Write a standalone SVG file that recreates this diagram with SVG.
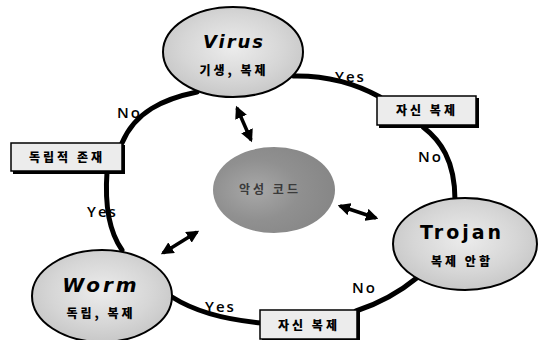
<svg xmlns="http://www.w3.org/2000/svg" width="540" height="340" viewBox="0 0 540 340">
<defs>
<radialGradient id="g" cx="0.5" cy="0.45" r="0.6">
<stop offset="0" stop-color="#ececec"/>
<stop offset="0.6" stop-color="#d6d6d6"/>
<stop offset="1" stop-color="#c4c4c4"/>
</radialGradient>
<radialGradient id="gc" cx="0.35" cy="0.5" r="0.7">
<stop offset="0" stop-color="#a8a8a8"/>
<stop offset="0.5" stop-color="#909090"/>
<stop offset="1" stop-color="#858585"/>
</radialGradient>
<marker id="ah" viewBox="0 0 10 10" refX="8" refY="5" markerWidth="3.6" markerHeight="3.6" orient="auto-start-reverse">
<path d="M0,0 L10,5 L0,10 Z" fill="#000"/>
</marker>
</defs>
<style>
.node{fill:url(#g);stroke:#000;stroke-width:2}
.title{font-family:"DejaVu Sans",sans-serif;font-weight:bold;fill:#000;text-anchor:middle}
.ko{font-family:"Noto Sans CJK KR",sans-serif;font-weight:900;font-size:12px;letter-spacing:3px;fill:#000;text-anchor:middle}
.box{fill:#ececec;stroke:#000;stroke-width:1.5}
.shadow{fill:#000}
.loop{fill:none;stroke:#000;stroke-width:5;stroke-linecap:round}
.lbl{font-family:"Open Sans",sans-serif;font-weight:600;font-size:15px;letter-spacing:2px;fill:#000}
.arr{stroke:#000;stroke-width:3.5;marker-start:url(#ah);marker-end:url(#ah)}
</style>
<g id="connectors">
<path class="loop" d="M197,92 C163,99 135,112 122,143"/>
<path class="loop" d="M107,172 C105,200 108,230 122,250"/>
<path class="loop" d="M172,297 Q205,318 262,323"/>
<path class="loop" d="M356,311 Q390,300 418,277"/>
<path class="loop" d="M423,127 C440,140 455,160 455,200"/>
<path class="loop" d="M380,97 Q340,75 293,76"/>
<line class="arr" x1="237" y1="108" x2="251" y2="140"/>
<line class="arr" x1="340" y1="206" x2="376" y2="218"/>
<line class="arr" x1="163" y1="253" x2="197" y2="232"/>
<text class="lbl" x="335" y="82">Yes</text>
<text class="lbl" x="418" y="162">No</text>
<text class="lbl" x="352" y="293">No</text>
<text class="lbl" x="205" y="312">Yes</text>
<text class="lbl" x="87" y="217">Yes</text>
<text class="lbl" x="117" y="118">No</text>
</g>
<g id="center">
<ellipse cx="274" cy="190" rx="61" ry="43" fill="url(#gc)"/>
<text x="270" y="194" font-family="'Noto Sans CJK KR',sans-serif" font-size="12" font-weight="bold" letter-spacing="3" fill="#3a3a3a" text-anchor="middle">악성 코드</text>
</g>
<g id="virus">
<ellipse class="node" cx="233" cy="52" rx="70" ry="45"/>
<text class="title" x="234" y="48" font-size="18" font-style="italic" letter-spacing="2">Virus</text>
<text class="ko" x="234" y="75">기생, 복제</text>
</g>
<g id="trojan">
<ellipse class="node" cx="465" cy="244" rx="72" ry="46"/>
<text class="title" x="462" y="239" font-size="19" letter-spacing="3">Trojan</text>
<text class="ko" x="462" y="266">복제 안함</text>
</g>
<g id="worm">
<ellipse class="node" cx="102" cy="296" rx="70" ry="46"/>
<text class="title" x="101" y="292" font-size="20" font-style="italic" letter-spacing="3">Worm</text>
<text class="ko" x="101" y="318">독립, 복제</text>
</g>
<g id="box-self-copy-top">
<rect class="shadow" x="379" y="98" width="100" height="30"/>
<rect class="box" x="377" y="96" width="99" height="29"/>
<text class="ko" x="427" y="115">자신 복제</text>
</g>
<g id="box-independent">
<rect class="shadow" x="13" y="145" width="112" height="29"/>
<rect class="box" x="11" y="143" width="111" height="28"/>
<text class="ko" x="67" y="162">독립적 존재</text>
</g>
<g id="box-self-copy-bottom">
<rect class="shadow" x="262" y="312" width="98" height="30"/>
<rect class="box" x="260" y="310" width="97" height="29"/>
<text class="ko" x="309" y="330">자신 복제</text>
</g>
</svg>
